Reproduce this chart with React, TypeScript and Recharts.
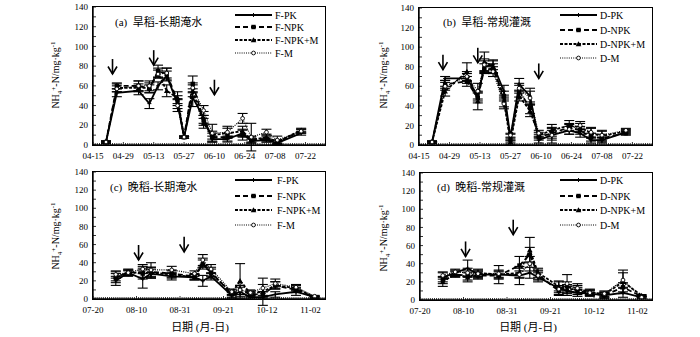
import React from 'react';
import { LineChart, Line, XAxis, YAxis, ErrorBar, ReferenceDot, Legend, Label } from 'recharts';

const FONT = "'Times New Roman', 'Liberation Serif', 'Noto Sans CJK SC', serif";

// ---------- Early rice (a, b) ----------
const EARLY_START = '04-15';
const EARLY_TICKS = ['04-15', '04-29', '05-13', '05-27', '06-10', '06-24', '07-08', '07-22'];
const EARLY_MAX = 107;

const aDates = ['04-21', '04-26', '05-06', '05-11', '05-15', '05-19', '05-24', '05-27', '05-31', '06-05', '06-09', '06-16', '06-23', '06-27', '07-04', '07-09', '07-20'];
const aPK = [3, 53, 55, 42, 60, 70, 42, 8, 48, 28, 6, 6, 12, 4, 5, 2, 12];
const aNPK = [3, 60, 60, 57, 75, 72, 45, 8, 62, 25, 8, 8, 10, 6, 6, 3, 14];
const aNPKM = [3, 58, 58, 58, 73, 55, 48, 8, 55, 22, 10, 12, 14, 5, 8, 3, 15];
const aM = [3, 57, 60, 60, 72, 73, 40, 8, 58, 35, 12, 13, 27, 8, 13, 5, 14];
const aPKe = [1, 4, 4, 5, 4, 5, 5, 1, 9, 6, 3, 3, 4, 2, 2, 1, 2];
const aNPKe = [1, 3, 5, 4, 6, 6, 5, 1, 8, 5, 4, 4, 5, 3, 3, 2, 2];
const aNPKMe = [1, 4, 4, 5, 5, 6, 6, 1, 6, 5, 4, 5, 5, 3, 3, 2, 2];
const aMe = [1, 3, 5, 5, 4, 5, 6, 1, 5, 5, 9, 6, 5, 14, 3, 4, 2];
const aArrows = [{ d: '04-24', y: 72 }, { d: '05-13', y: 81 }, { d: '06-10', y: 51 }];

const bDates = ['04-21', '04-27', '05-07', '05-12', '05-15', '05-19', '05-24', '05-27', '05-31', '06-05', '06-09', '06-15', '06-23', '06-28', '07-03', '07-08', '07-19'];
const bPK = [3, 68, 68, 50, 80, 82, 55, 8, 62, 50, 5, 10, 15, 12, 5, 5, 13];
const bNPK = [3, 62, 65, 48, 78, 78, 50, 5, 55, 38, 8, 12, 18, 15, 8, 7, 12];
const bNPKM = [3, 55, 75, 45, 85, 80, 45, 3, 50, 35, 10, 15, 20, 18, 12, 9, 14];
const bM = [3, 60, 70, 55, 82, 75, 42, 10, 58, 48, 12, 10, 16, 20, 13, 10, 15];
const bPKe = [1, 2, 5, 5, 6, 5, 6, 3, 6, 8, 3, 5, 4, 4, 3, 3, 2];
const bNPKe = [1, 4, 5, 5, 5, 5, 5, 2, 6, 6, 3, 5, 4, 4, 4, 4, 2];
const bNPKMe = [1, 5, 9, 9, 10, 6, 6, 2, 5, 6, 3, 6, 5, 4, 5, 5, 2];
const bMe = [1, 4, 5, 8, 6, 5, 5, 2, 5, 7, 3, 8, 5, 4, 5, 5, 2];
const bArrows = [{ d: '04-26', y: 77 }, { d: '05-12', y: 84 }, { d: '06-09', y: 68 }];

// ---------- Late rice (c, d) ----------
const LATE_START = '07-20';
const LATE_TICKS = ['07-20', '08-10', '08-31', '09-21', '10-12', '11-02'];
const LATE_MAX = 112;

const cDates = ['07-31', '08-06', '08-13', '08-17', '08-27', '09-07', '09-11', '09-15', '09-25', '09-29', '10-04', '10-10', '10-16', '10-26', '11-04'];
const cPK = [20, 29, 22, 28, 25, 24, 20, 25, 4, 8, 2, 2, 5, 8, 2];
const cNPK = [23, 30, 28, 30, 28, 25, 38, 30, 5, 10, 5, 5, 15, 10, 2];
const cNPKM = [25, 28, 30, 29, 27, 24, 40, 28, 7, 20, 6, 8, 15, 12, 2];
const cM = [27, 29, 33, 32, 32, 28, 43, 33, 8, 10, 7, 12, 17, 13, 3];
const cPKe = [5, 3, 10, 5, 4, 3, 6, 4, 3, 5, 2, 2, 3, 4, 1];
const cNPKe = [5, 3, 6, 5, 4, 3, 5, 5, 3, 5, 3, 3, 4, 3, 1];
const cNPKMe = [5, 3, 6, 6, 4, 3, 5, 5, 3, 19, 3, 15, 4, 3, 1];
const cMe = [4, 3, 5, 8, 4, 3, 6, 5, 3, 5, 3, 4, 5, 3, 1];
const cArrows = [{ d: '08-11', y: 43 }, { d: '09-02', y: 52 }];

const dDates = ['07-31', '08-06', '08-12', '08-17', '08-27', '09-06', '09-11', '09-15', '09-25', '09-29', '10-04', '10-10', '10-17', '10-26', '11-04'];
const dPK = [25, 30, 35, 28, 28, 27, 30, 25, 13, 10, 8, 7, 5, 8, 3];
const dNPK = [22, 28, 27, 27, 27, 38, 50, 28, 10, 15, 10, 8, 5, 14, 4];
const dNPKM = [20, 29, 25, 30, 28, 30, 55, 30, 15, 12, 12, 9, 6, 20, 5];
const dM = [27, 31, 30, 29, 29, 28, 40, 27, 12, 18, 13, 8, 7, 22, 3];
const dPKe = [5, 3, 9, 4, 10, 10, 6, 5, 8, 5, 4, 3, 3, 5, 1];
const dNPKe = [4, 3, 5, 4, 4, 10, 8, 5, 4, 5, 4, 3, 3, 5, 1];
const dNPKMe = [5, 3, 5, 4, 4, 5, 14, 5, 5, 5, 4, 3, 3, 13, 1];
const dMe = [4, 3, 5, 4, 4, 4, 8, 5, 4, 10, 5, 3, 3, 8, 1];
const dArrows = [{ d: '08-11', y: 48 }, { d: '09-03', y: 72 }];

const Y_TICKS = [0, 10, 20, 30, 40, 50, 60, 70, 80, 90, 100, 110, 120, 130, 140];

const CHART_W = 350;
const CHART_H = 168;
const Y_AXIS_W = 30;
const X_AXIS_H = 20;

const dayOf = (start: string, d: string) => {
  const [sm, sd] = start.split('-').map(Number);
  const [m, dd] = d.split('-').map(Number);
  return Math.round((Date.UTC(2001, m - 1, dd) - Date.UTC(2001, sm - 1, sd)) / 86400000);
};

const STYLES: Record<string, { dash?: string; width: number; marker: string }> = {
  pk: { dash: undefined, width: 1.8, marker: 'plus' },
  npk: { dash: '5 3', width: 1.8, marker: 'square' },
  npkm: { dash: '3 1.5', width: 1.8, marker: 'triangle' },
  m: { dash: '1 1.2', width: 1.2, marker: 'circle' },
};
const KEYS = ['pk', 'npk', 'npkm', 'm'];

function Marker({ type, cx, cy }: { type: string; cx: number; cy: number }) {
  if (type === 'plus')
    return <path d={`M${cx - 2},${cy}H${cx + 2}M${cx},${cy - 2}V${cy + 2}`} stroke="#000" strokeWidth={1} />;
  if (type === 'square') return <rect x={cx - 2.2} y={cy - 2.2} width={4.4} height={4.4} fill="#000" />;
  if (type === 'triangle')
    return <path d={`M${cx},${cy - 2.8}L${cx + 2.8},${cy + 2.2}L${cx - 2.8},${cy + 2.2}Z`} fill="#000" />;
  return <circle cx={cx} cy={cy} r={1.9} fill="#fff" stroke="#000" strokeWidth={0.9} />;
}

function Arrow({ cx, cy }: { cx: number; cy: number }) {
  return (
    <g stroke="#000" strokeWidth={1.6} fill="none">
      <line x1={cx} x2={cx} y1={cy - 15} y2={cy} />
      <polyline points={`${cx - 4.5},${cy - 7.5} ${cx},${cy} ${cx + 4.5},${cy - 7.5}`} />
    </g>
  );
}

function XTick(props: any) {
  const { x, y, payload, labels } = props;
  const lab = labels.get(payload.value);
  return (
    <g>
      <line x1={x} x2={x} y1={y} y2={y - (lab ? 3 : 2)} stroke="#000" strokeWidth={0.8} />
      {lab && (
        <text x={x} y={y + 14} textAnchor="middle" fontSize={9} fontFamily={FONT} fill="#000">
          {lab}
        </text>
      )}
    </g>
  );
}

function YTick(props: any) {
  const { x, y, payload } = props;
  const v = payload.value;
  return (
    <g>
      <line x1={x} x2={x + 3} y1={y} y2={y} stroke="#000" strokeWidth={0.8} />
      {v % 20 === 0 && (
        <text x={x - 5} y={y} dy="0.35em" textAnchor="end" fontSize={9} fontFamily={FONT} fill="#000">
          {v}
        </text>
      )}
    </g>
  );
}

type PanelCfg = {
  dates: string[];
  vals: number[][];
  errs: number[][];
  names: string[];
  start: string;
  ticks: string[];
  max: number;
  margin: { top: number; right: number; bottom: number; left: number };
  arrows: { d: string; y: number }[];
  title: string;
  titleX: number;
  yTitleX: number;
  yTitleY: number;
  legendLineX: [number, number];
  legendTextX: number;
  legendRows: number[];
  xTitle?: { x: number; y: number };
};

function plotBox(cfg: PanelCfg) {
  const m = cfg.margin;
  const left = m.left + Y_AXIS_W;
  return {
    left,
    top: m.top,
    width: CHART_W - left - m.right,
    height: CHART_H - m.top - m.bottom - X_AXIS_H,
  };
}

function Panel({ cfg }: { cfg: PanelCfg }) {
  const data = cfg.dates.map((d, i) => {
    const row: any = { x: dayOf(cfg.start, d) };
    KEYS.forEach((k, j) => {
      row[k] = cfg.vals[j][i];
      row[k + 'E'] = cfg.errs[j][i];
    });
    return row;
  });
  const labels = new Map(cfg.ticks.map((t) => [dayOf(cfg.start, t), t] as [number, string]));
  const allDays = Array.from({ length: cfg.max + 1 }, (_, i) => i);

  const legendContent = () => (
    <svg width={CHART_W} height={90} style={{ display: 'block', overflow: 'visible', pointerEvents: 'none' }}>
      <text x={cfg.titleX} y={26} fontSize={11} fontFamily={FONT} fill="#000" style={{ whiteSpace: 'pre' }}>
        {cfg.title}
      </text>
      {KEYS.map((k, i) => {
        const st = STYLES[k];
        const y = cfg.legendRows[i];
        const [x1, x2] = cfg.legendLineX;
        return (
          <g key={k}>
            <line x1={x1} x2={x2} y1={y} y2={y} stroke="#000" strokeWidth={st.width} strokeDasharray={st.dash} />
            <Marker type={st.marker} cx={(x1 + x2) / 2} cy={y} />
            <text x={cfg.legendTextX} y={y} dy="0.35em" fontSize={10} fontFamily={FONT} fill="#000">
              {cfg.names[i]}
            </text>
          </g>
        );
      })}
    </svg>
  );

  return (
    <LineChart width={CHART_W} height={CHART_H} data={data} margin={cfg.margin}>
      <XAxis
        dataKey="x"
        type="number"
        domain={[0, cfg.max]}
        allowDataOverflow
        ticks={allDays}
        interval={0}
        tickSize={0}
        tickMargin={0}
        height={X_AXIS_H}
        axisLine={{ stroke: '#000', strokeWidth: 1.4 }}
        tick={(p: any) => <XTick {...p} labels={labels} />}
      >
        {cfg.xTitle && (
          <Label
            content={() => (
              <text x={cfg.xTitle!.x} y={cfg.xTitle!.y} textAnchor="middle" dy="0.35em" fontSize={11} fontFamily={FONT} fill="#000">
                日期 (月-日)
              </text>
            )}
          />
        )}
      </XAxis>
      <YAxis
        type="number"
        domain={[0, 140]}
        allowDataOverflow
        ticks={Y_TICKS}
        interval={0}
        tickSize={0}
        tickMargin={0}
        width={Y_AXIS_W}
        axisLine={{ stroke: '#000', strokeWidth: 1.4 }}
        tick={(p: any) => <YTick {...p} />}
      >
        <Label
          content={() => (
            <text
              x={cfg.yTitleX}
              y={cfg.yTitleY}
              transform={`rotate(-90, ${cfg.yTitleX}, ${cfg.yTitleY})`}
              textAnchor="middle"
              fontSize={10}
              fontFamily={FONT}
              fill="#000"
            >
              NH
              <tspan fontSize={7} dy={2.5}>4</tspan>
              <tspan fontSize={7} dy={-6}>+</tspan>
              <tspan dy={3.5}>-N/mg·kg</tspan>
              <tspan fontSize={7} dy={-4}>-1</tspan>
            </text>
          )}
        />
      </YAxis>
      {KEYS.map((k) => {
        const st = STYLES[k];
        return (
          <Line
            key={k}
            dataKey={k}
            type="linear"
            stroke="#000"
            strokeWidth={st.width}
            strokeDasharray={st.dash}
            isAnimationActive={false}
            activeDot={false}
            dot={(p: any) => <Marker key={`${k}-${p.index}`} type={st.marker} cx={p.cx} cy={p.cy} />}
          >
            <ErrorBar dataKey={k + 'E'} width={5} stroke="#000" strokeWidth={1.1} direction="y" isAnimationActive={false} />
          </Line>
        );
      })}
      {cfg.arrows.map((a, i) => (
        <ReferenceDot
          key={i}
          x={dayOf(cfg.start, a.d)}
          y={a.y}
          r={0}
          shape={(p: any) => <Arrow cx={p.cx} cy={p.cy} />}
        />
      ))}
      <Legend
        layout="vertical"
        align="center"
        verticalAlign="middle"
        wrapperStyle={{ left: 0, top: 0, width: CHART_W, height: 90, pointerEvents: 'none' }}
        content={legendContent}
      />
    </LineChart>
  );
}

const F_NAMES = ['F-PK', 'F-NPK', 'F-NPK+M', 'F-M'];
const D_NAMES = ['D-PK', 'D-NPK', 'D-NPK+M', 'D-M'];

const PANELS: { left: number; top: number; cfg: PanelCfg }[] = [
  {
    left: 0,
    top: 0,
    cfg: {
      dates: aDates, vals: [aPK, aNPK, aNPKM, aM], errs: [aPKe, aNPKe, aNPKMe, aMe], names: F_NAMES,
      start: EARLY_START, ticks: EARLY_TICKS, max: EARLY_MAX,
      margin: { top: 7, right: 25, bottom: 3, left: 63 },
      arrows: aArrows, title: '(a)  旱稻-长期淹水', titleX: 115,
      yTitleX: 59, yTitleY: 75,
      legendLineX: [235, 272], legendTextX: 275, legendRows: [15, 27, 40, 53],
    },
  },
  {
    left: 350,
    top: 0,
    cfg: {
      dates: bDates, vals: [bPK, bNPK, bNPKM, bM], errs: [bPKe, bNPKe, bNPKMe, bMe], names: D_NAMES,
      start: EARLY_START, ticks: EARLY_TICKS, max: EARLY_MAX,
      margin: { top: 8, right: 48, bottom: 3, left: 39 },
      arrows: bArrows, title: '(b)  旱稻-常规灌溉', titleX: 93,
      yTitleX: 37, yTitleY: 75,
      legendLineX: [210, 247], legendTextX: 250, legendRows: [15, 30, 44, 58],
    },
  },
  {
    left: 0,
    top: 165,
    cfg: {
      dates: cDates, vals: [cPK, cNPK, cNPKM, cM], errs: [cPKe, cNPKe, cNPKMe, cMe], names: F_NAMES,
      start: LATE_START, ticks: LATE_TICKS, max: LATE_MAX,
      margin: { top: 7, right: 25, bottom: 14, left: 63 },
      arrows: cArrows, title: '(c)  晚稻-长期淹水', titleX: 110,
      yTitleX: 59, yTitleY: 71,
      legendLineX: [235, 272], legendTextX: 277, legendRows: [15, 31, 45, 60],
      xTitle: { x: 200, y: 162 },
    },
  },
  {
    left: 350,
    top: 165,
    cfg: {
      dates: dDates, vals: [dPK, dNPK, dNPKM, dM], errs: [dPKe, dNPKe, dNPKMe, dMe], names: D_NAMES,
      start: LATE_START, ticks: LATE_TICKS, max: LATE_MAX,
      margin: { top: 8, right: 48, bottom: 13, left: 40 },
      arrows: dArrows, title: '(d)  晚稻-常规灌溉', titleX: 87,
      yTitleX: 37, yTitleY: 73,
      legendLineX: [210, 247], legendTextX: 250, legendRows: [15, 31, 45, 60],
      xTitle: { x: 178, y: 162 },
    },
  },
];

export default function App() {
  return (
    <div style={{ position: 'absolute', left: 0, top: 0, width: 700, height: 337, background: '#fff' }}>
      {PANELS.map((p, i) => {
        const box = plotBox(p.cfg);
        return (
          <div key={i} style={{ position: 'absolute', left: p.left, top: p.top, width: CHART_W, height: CHART_H }}>
            <Panel cfg={p.cfg} />
            <div
              style={{
                position: 'absolute',
                left: box.left - 1,
                top: box.top - 1,
                width: box.width + 2,
                height: box.height + 2,
                border: '1.5px solid #000',
                boxSizing: 'border-box',
                pointerEvents: 'none',
              }}
            />
          </div>
        );
      })}
    </div>
  );
}
